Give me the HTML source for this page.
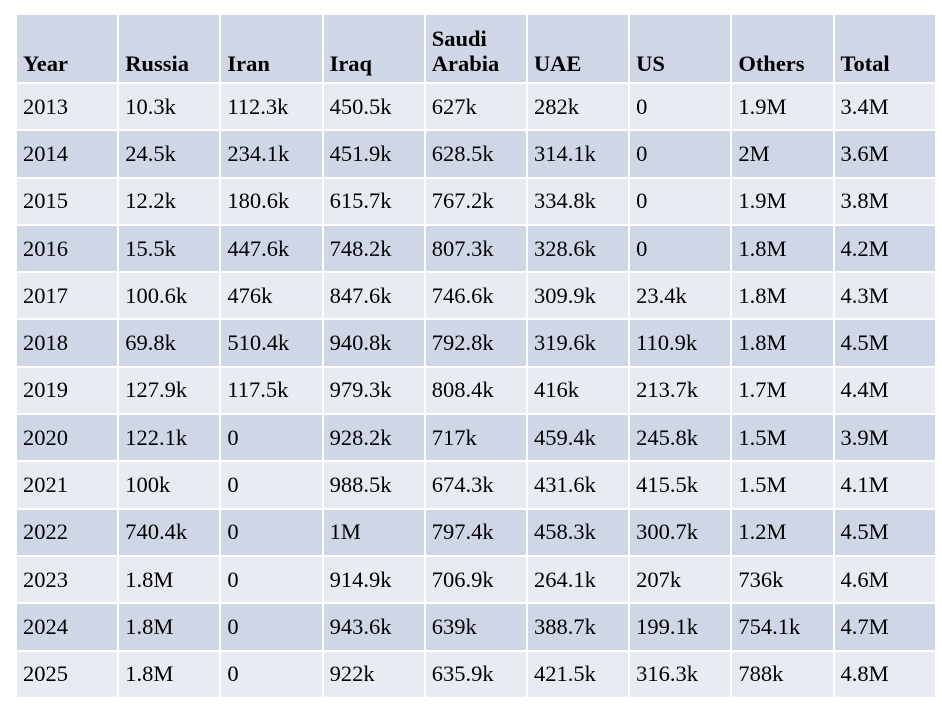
<!DOCTYPE html>
<html><head><style>
body{margin:0;background:#fff;width:942px;height:706px;overflow:hidden}
table{position:absolute;left:15px;top:13px;border-collapse:collapse;font-family:"Liberation Serif",serif;font-size:22.5px;color:#000;table-layout:fixed;width:920px}
td,th{border:2px solid #fff;padding:0 0 0 6px;text-align:left;vertical-align:middle;height:45.3px;line-height:24px;white-space:nowrap}
th{font-weight:bold;vertical-align:bottom;padding-bottom:6px;height:61px;background:#cfd6e6;line-height:25px}
tr:nth-child(even) td{background:#e8ebf2}
tr:nth-child(odd) td{background:#cfd6e6}
</style></head><body>
<table>
<colgroup><col span="9" style="width:102.2px"></colgroup>
<tr><th>Year</th><th>Russia</th><th>Iran</th><th>Iraq</th><th>Saudi<br>Arabia</th><th>UAE</th><th>US</th><th>Others</th><th>Total</th></tr>
<tr><td>2013</td><td>10.3k</td><td>112.3k</td><td>450.5k</td><td>627k</td><td>282k</td><td>0</td><td>1.9M</td><td>3.4M</td></tr>
<tr><td>2014</td><td>24.5k</td><td>234.1k</td><td>451.9k</td><td>628.5k</td><td>314.1k</td><td>0</td><td>2M</td><td>3.6M</td></tr>
<tr><td>2015</td><td>12.2k</td><td>180.6k</td><td>615.7k</td><td>767.2k</td><td>334.8k</td><td>0</td><td>1.9M</td><td>3.8M</td></tr>
<tr><td>2016</td><td>15.5k</td><td>447.6k</td><td>748.2k</td><td>807.3k</td><td>328.6k</td><td>0</td><td>1.8M</td><td>4.2M</td></tr>
<tr><td>2017</td><td>100.6k</td><td>476k</td><td>847.6k</td><td>746.6k</td><td>309.9k</td><td>23.4k</td><td>1.8M</td><td>4.3M</td></tr>
<tr><td>2018</td><td>69.8k</td><td>510.4k</td><td>940.8k</td><td>792.8k</td><td>319.6k</td><td>110.9k</td><td>1.8M</td><td>4.5M</td></tr>
<tr><td>2019</td><td>127.9k</td><td>117.5k</td><td>979.3k</td><td>808.4k</td><td>416k</td><td>213.7k</td><td>1.7M</td><td>4.4M</td></tr>
<tr><td>2020</td><td>122.1k</td><td>0</td><td>928.2k</td><td>717k</td><td>459.4k</td><td>245.8k</td><td>1.5M</td><td>3.9M</td></tr>
<tr><td>2021</td><td>100k</td><td>0</td><td>988.5k</td><td>674.3k</td><td>431.6k</td><td>415.5k</td><td>1.5M</td><td>4.1M</td></tr>
<tr><td>2022</td><td>740.4k</td><td>0</td><td>1M</td><td>797.4k</td><td>458.3k</td><td>300.7k</td><td>1.2M</td><td>4.5M</td></tr>
<tr><td>2023</td><td>1.8M</td><td>0</td><td>914.9k</td><td>706.9k</td><td>264.1k</td><td>207k</td><td>736k</td><td>4.6M</td></tr>
<tr><td>2024</td><td>1.8M</td><td>0</td><td>943.6k</td><td>639k</td><td>388.7k</td><td>199.1k</td><td>754.1k</td><td>4.7M</td></tr>
<tr><td>2025</td><td>1.8M</td><td>0</td><td>922k</td><td>635.9k</td><td>421.5k</td><td>316.3k</td><td>788k</td><td>4.8M</td></tr>
</table>
</body></html>
